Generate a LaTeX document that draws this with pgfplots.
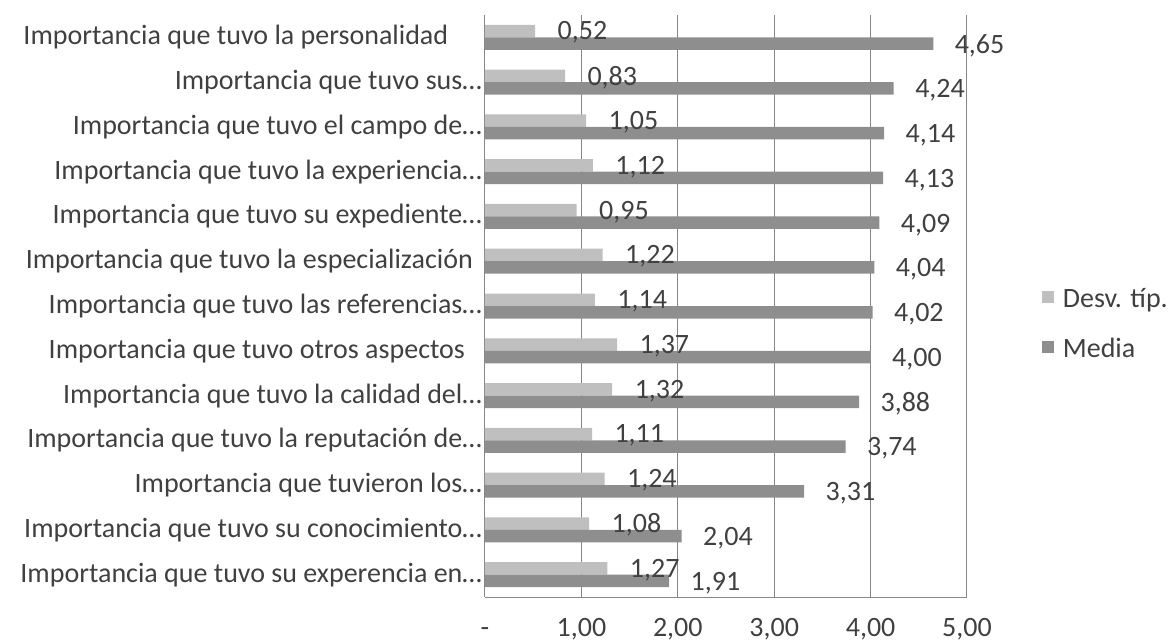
\documentclass[border=0pt]{standalone}
\usepackage{pgfplots}
\pgfplotsset{compat=1.18}
\usepackage{fontspec}
\setmainfont{Carlito}
\definecolor{lightbar}{HTML}{BFBFBF}
\definecolor{darkbar}{HTML}{8E8E8E}
\definecolor{gridc}{HTML}{878787}
\definecolor{txt}{HTML}{404040}
\begin{document}
\fontsize{28}{33}\selectfont
\begin{tikzpicture}
\path[use as bounding box] (-485pt,-46pt) rectangle (689pt,597pt);
\begin{axis}[
  scale only axis,
  width=482pt, height=582pt,
  xbar, bar width=12.5pt,
  xmin=0, xmax=5,
  ymin=-0.5, ymax=12.5,
  y dir=reverse,
  axis x line*=bottom, axis y line*=left,
  axis line style={gridc, line width=1pt},
  xmajorgrids, grid style={gridc, line width=1pt},
  major tick length=0pt,
  xtick={0,1,2,3,4,5},
  xticklabels={-,{1,00},{2,00},{3,00},{4,00},{5,00}},
  xticklabel style={anchor=base, yshift=-39pt, text=txt, font=\fontsize{28}{33}\selectfont},
  ytick={0,...,12},
  yticklabels={
    {Importancia que tuvo la personalidad\kern 1.2em},
    {Importancia que tuvo sus…},
    {Importancia que tuvo el campo de…},
    {Importancia que tuvo la experiencia…},
    {Importancia que tuvo su expediente…},
    {Importancia que tuvo la especialización\kern 0.32em},
    {Importancia que tuvo las referencias…},
    {Importancia que tuvo otros aspectos\kern 0.6em},
    {Importancia que tuvo la calidad del…},
    {Importancia que tuvo la reputación de…},
    {Importancia que tuvieron los…},
    {Importancia que tuvo su conocimiento…},
    {Importancia que tuvo su experencia en…}},
  yticklabel style={text=txt, font=\fontsize{28}{33}\selectfont, inner sep=3pt},
  point meta=x,
  nodes near coords={\pgfmathprintnumber[assume math mode=true,fixed,fixed zerofill,precision=2,use comma]{\pgfplotspointmeta}},
  every node near coord/.append style={anchor=west, text=txt, font=\fontsize{28}{33}\selectfont},
  legend style={at={(1.155,0.467)}, anchor=west, draw=none, fill=none,
    font=\fontsize{28}{33}\selectfont, text=txt, row sep=22pt, column sep=7pt, inner sep=0pt},
  legend cell align=left,
  legend image code/.code={\fill[#1] (0pt,-3pt) rectangle (12pt,9pt);},
]
\addplot+[draw=none, fill=lightbar, bar shift=6.25pt, every node near coord/.append style={xshift=13pt, yshift=-1.5pt}] coordinates {
(0.52,0) (0.83,1) (1.05,2) (1.12,3) (0.95,4) (1.22,5) (1.14,6) (1.37,7) (1.32,8) (1.11,9) (1.24,10) (1.08,11) (1.27,12)};
\addplot+[draw=none, fill=darkbar, bar shift=-6.25pt, every node near coord/.append style={xshift=12pt, yshift=-2pt}] coordinates {
(4.65,0) (4.24,1) (4.14,2) (4.13,3) (4.09,4) (4.04,5) (4.02,6) (4.00,7) (3.88,8) (3.74,9) (3.31,10) (2.04,11) (1.91,12)};
\legend{Desv. típ., Media}
\end{axis}
\end{tikzpicture}
\end{document}
